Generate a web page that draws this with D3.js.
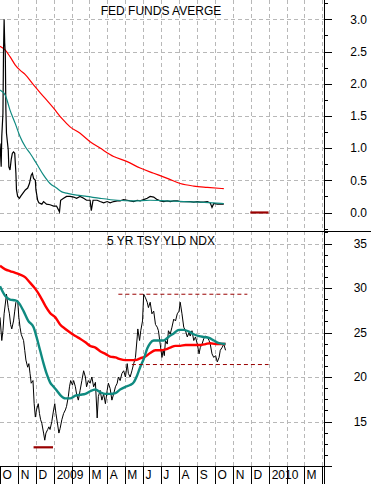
<!DOCTYPE html>
<html>
<head>
<meta charset="utf-8">
<script src="https://cdn.jsdelivr.net/npm/d3@7"></script>
<style>
  body { margin: 0; background: #fff; }
  svg { display: block; font-family: Arial, "Liberation Sans", sans-serif; }
  .grid line { stroke: #b8b8b8; stroke-dasharray: 4,3; shape-rendering: crispEdges; }
  .grid path { display: none; }
  .axis path, .axis line { stroke: #000; shape-rendering: crispEdges; }
  .axis text { font-size: 12px; fill: #000; }
</style>
</head>
<body>
<div id="chart"></div>
<script>
// Two panel chart: fed funds average (top) and 5 yr treasury yield index (bottom)
// Values. x values are days after 2008-10-01

var startDate = "2008-10-01";
var endDate = "2010-04-05";

// x axis labels, one per month start
var monthLabels = ["O", "N", "D", "2009", "", "M", "A", "M", "J", "J", "A", "S", "O", "N", "D", "2010", "", "M"];

// ---- top panel: fed funds ----
var fedTicks = [0, 0.5, 1, 1.5, 2, 2.5, 3];

var fedDays = [0, 2, 3, 5, 6, 7, 8, 9, 10, 11, 14, 15, 17, 19, 21, 23, 25, 27, 28, 30, 33, 35, 39, 43, 47, 50, 53, 55, 57, 60,
  61, 64, 66, 71, 74, 79, 85, 91, 96, 101, 103, 108, 113, 119, 125, 130, 136, 142, 147, 153, 155, 158, 165, 170, 176, 182,
  187, 193, 199, 204, 210, 216, 221, 227, 233, 238, 244, 250, 255, 261, 267, 272, 278, 284, 289, 295, 301, 306, 312, 318,
  323, 329, 335, 340, 346, 352, 357, 360, 363, 369, 374, 380];
var fedRate = [1.07, 0.71, 1.18, 1.54, 2.52, 3.0, 2.63, 2.47, 1.59, 1.23, 0.97, 0.71, 0.66, 0.82, 0.92, 0.94, 0.92, 0.61, 0.35, 0.25,
  0.22, 0.25, 0.30, 0.35, 0.38, 0.45, 0.58, 0.61, 0.53, 0.50, 0.35, 0.19, 0.15, 0.13, 0.17, 0.13, 0.12, 0.10, 0.10, 0.01,
  0.19, 0.22, 0.25, 0.25, 0.24, 0.22, 0.25, 0.22, 0.19, 0.19, 0.03, 0.19, 0.19, 0.17, 0.15, 0.17, 0.15, 0.17, 0.18, 0.18,
  0.20, 0.19, 0.18, 0.17, 0.19, 0.18, 0.20, 0.22, 0.25, 0.24, 0.20, 0.18, 0.17, 0.18, 0.17, 0.18, 0.18, 0.17, 0.17, 0.17,
  0.17, 0.16, 0.17, 0.16, 0.16, 0.17, 0.15, 0.08, 0.14, 0.13, 0.13, 0.13];

var fedFastDays = [0, 9, 17, 26, 34, 43, 51, 62, 74, 85, 96, 105, 113, 130, 147, 170, 199, 227, 255, 284, 312, 340, 380];
var fedFastAvg = [1.90, 1.82, 1.59, 1.38, 1.18, 1.02, 0.92, 0.76, 0.58, 0.45, 0.38, 0.32, 0.30, 0.27, 0.25, 0.22, 0.19, 0.18,
  0.19, 0.18, 0.17, 0.16, 0.14];

var fedSlowDays = [0, 9, 17, 26, 34, 43, 57, 74, 91, 105, 119, 136, 153, 170, 193, 216, 238, 261, 284, 306, 329, 352, 380];
var fedSlowAvg = [2.58, 2.52, 2.42, 2.29, 2.21, 2.14, 1.98, 1.80, 1.62, 1.46, 1.33, 1.23, 1.10, 1.00, 0.87, 0.79, 0.69, 0.61,
  0.53, 0.45, 0.41, 0.39, 0.37];

// short marker line: [startDay, endDay, value]
var fedMarker = [425, 456, 0.0];

// ---- bottom panel: 5 yr yield index ----
var yldTicks = [15, 20, 25, 30, 35];

var yldDays = [0, 3, 5, 7, 9, 11, 14, 16, 18, 20, 23, 25, 27, 30, 32, 34, 36, 40, 42, 44, 47, 49, 51, 53, 56, 58, 60, 62, 65, 67,
  69, 71, 74, 76, 78, 81, 83, 85, 88, 91, 93, 95, 98, 100, 102, 105, 108, 111, 113, 116, 118, 120, 123, 125, 128, 130, 133,
  136, 139, 142, 145, 147, 150, 153, 156, 159, 162, 165, 167, 170, 173, 176, 179, 182, 184, 187, 190, 193, 196, 199, 201,
  204, 207, 210, 213, 216, 218, 221, 224, 227, 230, 233, 234, 237, 239, 242, 244, 247, 250, 252, 255, 258, 261, 264, 267,
  269, 272, 275, 277, 279, 281, 284, 286, 289, 292, 295, 298, 301, 304, 306, 309, 312, 315, 318, 321, 323, 326, 329, 332,
  335, 338, 340, 343, 346, 349, 352, 355, 357, 360, 363, 366, 369, 372, 374, 377, 380, 383];
var yldIndex = [26.7, 24.1, 25.2, 27.1, 28.2, 29.3, 27.8, 27.1, 25.9, 25.4, 26.3, 27.4, 28.4, 28.6, 26.7, 25.6, 24.8, 24.1, 23.0,
  21.9, 21.1, 21.5, 20.4, 19.3, 19.6, 17.0, 15.5, 16.3, 17.0, 15.9, 15.2, 14.8, 13.7, 12.9, 13.7, 14.1, 14.4, 14.1, 15.0,
  16.3, 17.0, 15.9, 14.6, 13.7, 14.2, 15.2, 15.9, 16.3, 16.7, 17.8, 18.9, 19.6, 19.1, 19.6, 18.9, 18.1, 17.4, 18.5, 19.6,
  20.7, 20.0, 18.9, 19.6, 19.3, 20.0, 18.9, 19.4, 15.4, 17.8, 18.5, 17.4, 18.1, 17.0, 18.5, 19.3, 18.7, 17.4, 18.1, 18.9,
  19.3, 20.0, 19.6, 20.4, 20.7, 20.0, 21.5, 20.4, 20.0, 20.7, 21.5, 22.2, 24.5, 25.4, 24.1, 25.2, 26.3, 29.3, 28.9, 28.4,
  27.8, 28.4, 27.1, 27.4, 25.9, 25.6, 25.2, 23.7, 22.2, 23.0, 22.4, 24.1, 23.7, 25.2, 24.8, 25.6, 26.5, 26.3, 27.1, 27.4,
  28.4, 27.1, 25.6, 25.2, 24.5, 25.0, 24.6, 25.2, 24.1, 24.5, 23.7, 22.6, 23.3, 23.7, 24.3, 24.6, 24.5, 24.1, 23.7, 22.6,
  22.2, 22.4, 21.7, 22.2, 23.0, 23.3, 23.7, 23.0];

var yldFastDays = [0, 9, 17, 26, 31, 40, 48, 57, 62, 68, 74, 79, 85, 91, 96, 102, 111, 119, 128, 136, 145, 153, 162, 170, 179,
  187, 196, 204, 213, 221, 227, 233, 238, 244, 250, 255, 261, 269, 278, 286, 295, 304, 312, 321, 329, 338, 346, 355, 363,
  372, 383];
var yldFastAvg = [30.2, 29.1, 28.7, 28.6, 28.4, 27.4, 26.3, 25.6, 24.5, 23.0, 21.5, 20.4, 19.4, 18.9, 18.5, 18.0, 17.6, 17.6,
  17.9, 18.0, 18.1, 18.4, 18.6, 18.3, 18.1, 18.1, 18.2, 18.6, 18.9, 19.1, 19.4, 20.2, 21.1, 22.0, 23.2, 23.8, 24.1, 24.1,
  24.1, 24.5, 24.9, 25.3, 25.3, 25.1, 24.8, 24.6, 24.5, 24.4, 24.1, 23.8, 23.7];

var yldSlowDays = [0, 9, 17, 26, 34, 43, 51, 60, 68, 77, 85, 94, 102, 111, 119, 128, 136, 145, 153, 162, 170, 179, 187, 196,
  204, 213, 221, 230, 238, 247, 255, 264, 272, 281, 289, 298, 306, 315, 323, 332, 340, 349, 357, 366, 374, 383];
var yldSlowAvg = [32.5, 32.1, 31.9, 31.7, 31.5, 31.2, 30.6, 29.9, 29.1, 28.0, 27.2, 26.7, 25.9, 25.4, 25.0, 24.6, 24.3, 23.9,
  23.5, 23.3, 22.9, 22.6, 22.3, 22.2, 22.0, 21.9, 21.9, 21.9, 22.1, 22.3, 22.7, 23.0, 23.0, 23.1, 23.3, 23.5, 23.5, 23.6,
  23.6, 23.6, 23.6, 23.7, 23.8, 23.7, 23.7, 23.7];

// marker lines: [startDay, endDay, value]
var yldLowMarker = [57, 90, 12.1];
var yldHighDash = [201, 420, 29.3];
var yldLowDash = [224, 456, 21.4];


var W = 371, H = 484;
var plotRight = 324.5;
var splitY = 231;
var axisY = 466;

var t0 = d3.timeParse("%Y-%m-%d")(startDate);
function dayOf(n) { return d3.timeDay.offset(t0, n); }

function zipSeries(days, vals) {
  return days.map(function (d, i) { return [dayOf(d), vals[i]]; });
}

var svg = d3.select("#chart").append("svg")
    .attr("width", W)
    .attr("height", H);

// Scales
var x = d3.scaleTime()
    .domain([t0, d3.timeParse("%Y-%m-%d")(endDate)])
    .range([0, plotRight]);

var yFed = d3.scaleLinear().domain([0, 3]).range([212.5, 19.3]);
var yYld = d3.scaleLinear().domain([10, 35]).range([axisY, 243.5]);

var months = d3.timeMonth.range(t0, x.domain()[1]);

// Vertical gridlines (month starts), both panels
svg.append("g")
    .attr("class", "grid")
    .attr("transform", "translate(0," + axisY + ")")
    .call(d3.axisBottom(x).tickValues(months.slice(1)).tickSize(-axisY).tickFormat(""));

// Horizontal gridlines
svg.append("g")
    .attr("class", "grid")
    .call(d3.axisLeft(yFed).tickValues(fedTicks).tickSize(-plotRight).tickFormat(""));

svg.append("g")
    .attr("class", "grid")
    .call(d3.axisLeft(yYld).tickValues(yldTicks).tickSize(-plotRight).tickFormat(""));

// Line generators
var lineFed = d3.line().x(function (d) { return x(d[0]); }).y(function (d) { return yFed(d[1]); });
var lineYld = d3.line().x(function (d) { return x(d[0]); }).y(function (d) { return yYld(d[1]); });
var smoothFed = d3.line().curve(d3.curveMonotoneX).x(function (d) { return x(d[0]); }).y(function (d) { return yFed(d[1]); });
var smoothYld = d3.line().curve(d3.curveMonotoneX).x(function (d) { return x(d[0]); }).y(function (d) { return yYld(d[1]); });

// Top panel lines
svg.append("path").datum(zipSeries(fedSlowDays, fedSlowAvg))
    .attr("d", smoothFed).attr("fill", "none").attr("stroke", "#ff0000").attr("stroke-width", 1.2);
svg.append("path").datum(zipSeries(fedDays, fedRate))
    .attr("d", lineFed).attr("fill", "none").attr("stroke", "#000").attr("stroke-width", 1.2);
svg.append("path").datum(zipSeries(fedFastDays, fedFastAvg))
    .attr("d", smoothFed).attr("fill", "none").attr("stroke", "#0f8a80").attr("stroke-width", 1.2);

svg.append("line")
    .attr("x1", x(dayOf(fedMarker[0]))).attr("x2", x(dayOf(fedMarker[1])))
    .attr("y1", yFed(fedMarker[2])).attr("y2", yFed(fedMarker[2]))
    .attr("stroke", "#990000").attr("stroke-width", 2.2);

// Bottom panel lines
svg.append("path").datum(zipSeries(yldDays, yldIndex))
    .attr("d", lineYld).attr("fill", "none").attr("stroke", "#000").attr("stroke-width", 1);
svg.append("path").datum(zipSeries(yldSlowDays, yldSlowAvg))
    .attr("d", smoothYld).attr("fill", "none").attr("stroke", "#ff0000").attr("stroke-width", 2.4);
svg.append("path").datum(zipSeries(yldFastDays, yldFastAvg))
    .attr("d", smoothYld).attr("fill", "none").attr("stroke", "#0f8a80").attr("stroke-width", 2.4);

[yldHighDash, yldLowDash].forEach(function (m) {
  svg.append("line")
      .attr("x1", x(dayOf(m[0]))).attr("x2", x(dayOf(m[1])))
      .attr("y1", yYld(m[2])).attr("y2", yYld(m[2]))
      .attr("stroke", "#990000").attr("stroke-width", 1).attr("stroke-dasharray", "4,3");
});

svg.append("line")
    .attr("x1", x(dayOf(yldLowMarker[0]))).attr("x2", x(dayOf(yldLowMarker[1])))
    .attr("y1", yYld(yldLowMarker[2])).attr("y2", yYld(yldLowMarker[2]))
    .attr("stroke", "#990000").attr("stroke-width", 2.2);

// Panel titles
svg.append("text").attr("x", 161).attr("y", 15).attr("text-anchor", "middle")
    .style("font-size", "12px").text("FED FUNDS AVERGE");
svg.append("text").attr("x", 161).attr("y", 245).attr("text-anchor", "middle")
    .style("font-size", "12px").text("5 YR TSY YLD NDX");

// Panel separator, runs the full width
svg.append("line")
    .attr("x1", 0).attr("x2", W).attr("y1", splitY + 0.5).attr("y2", splitY + 0.5)
    .attr("stroke", "#000");

// Right axes: minor ticks then major ticks with labels
function rightAxis(scale, minorVals, majorVals, fmt) {
  svg.append("g").attr("class", "axis")
      .attr("transform", "translate(" + plotRight + ",0)")
      .call(d3.axisRight(scale).tickValues(minorVals).tickSize(3).tickSizeOuter(0).tickFormat(""))
      .select(".domain").remove();
  var g = svg.append("g").attr("class", "axis")
      .attr("transform", "translate(" + plotRight + ",0)")
      .call(d3.axisRight(scale).tickValues(majorVals).tickSize(7).tickFormat(fmt));
  g.select(".domain").remove();
  g.selectAll("text").attr("x", 42.5).attr("text-anchor", "end");
}

rightAxis(yFed, d3.range(-0.25, 3.3, 0.25), fedTicks, d3.format(".1f"));
rightAxis(yYld, d3.range(10, 36.3, 1.25), yldTicks.concat([10]), function (d) { return d === 10 ? "" : d; });

svg.append("line")
    .attr("x1", plotRight).attr("x2", plotRight).attr("y1", 0).attr("y2", H)
    .attr("stroke", "#000");

// Bottom date axis: month separators with labels to the right
var xAxis = svg.append("g").attr("class", "axis")
    .attr("transform", "translate(0," + axisY + ")")
    .call(d3.axisBottom(x).tickValues(months).tickSize(18).tickSizeOuter(0)
      .tickFormat(function (d, i) { return monthLabels[i]; }));
xAxis.select(".domain").remove();
xAxis.selectAll("text").attr("text-anchor", "start").attr("x", 2).attr("y", 4).attr("dy", "0.71em");

svg.append("line")
    .attr("x1", 0).attr("x2", plotRight).attr("y1", axisY + 0.5).attr("y2", axisY + 0.5)
    .attr("stroke", "#000");
</script>
</body>
</html>
